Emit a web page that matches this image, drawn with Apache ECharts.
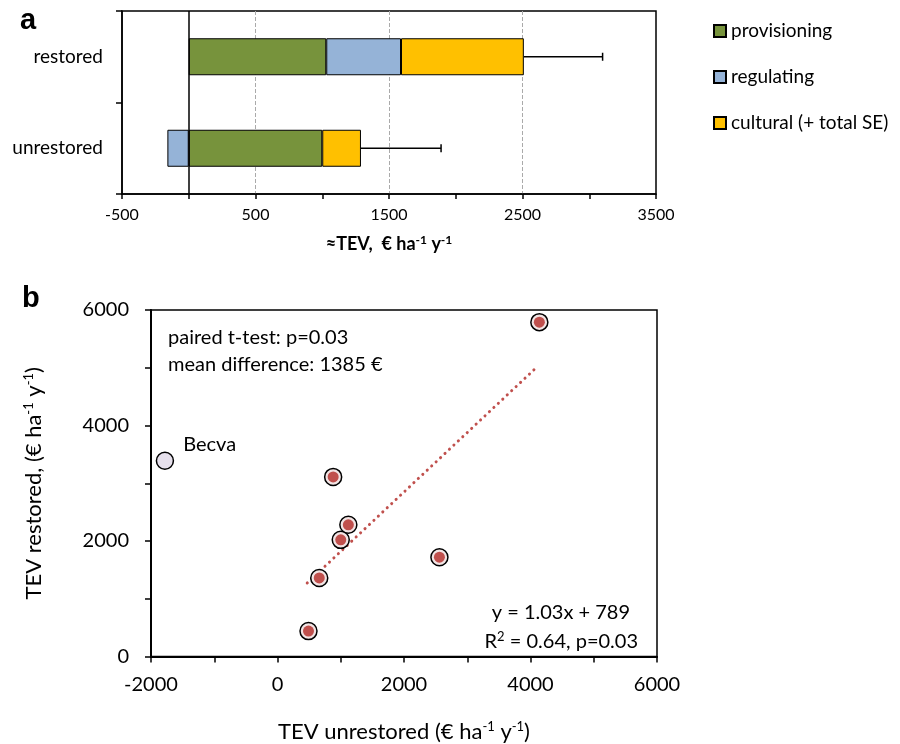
<!DOCTYPE html>
<html lang="en">
<head>
    <meta charset="UTF-8">
    <title>TEV restored vs unrestored</title>
    <script src="https://cdn.jsdelivr.net/npm/echarts@6/dist/echarts.min.js"></script>
    <style>
        html, body { margin: 0; padding: 0; background: #fff; }
    </style>
</head>
<body>
<div id="main" style="width: 900px;height:744px;"></div>
<script type="text/javascript">
    // panel a - stacked bars (bottom category first)
    var categories = ['unrestored', 'restored'];
    var provisioning = [1000, 1030];
    var regulating = [-160, 560];
    var cultural = [290, 920];
    var seLow = [1290, 2510];
    var seHigh = [1890, 3100];

    // panel b - sites
    var siteX = [490, 660, 880, 1000, 1120, 2560, 4140];
    var siteY = [440, 1360, 3110, 2020, 2280, 1720, 5790];
    var becva = [-1780, 3390];
    var trendX = [470, 4080];
    var trendY = [1273, 4991];

    var font = 'Lato, "Open Sans", sans-serif';
    var red = '#c0504d';

    var sites = siteX.map(function (x, i) { return [x, siteY[i]]; });
    var trend = trendX.map(function (x, i) { return [x, trendY[i]]; });
    var errData = categories.map(function (c, i) { return [seLow[i], i, seHigh[i]]; });

    var plain = function (v) { return String(v); };
    var sup = { fontSize: 13, padding: [0, 0, 10, 0], fontFamily: font, color: '#000' };

    var myChart = echarts.init(document.getElementById('main'));
    myChart.setOption({
        animation: false,
        backgroundColor: '#fff',
        textStyle: { fontFamily: font, color: '#000' },
        legend: {
            data: ['provisioning', 'regulating', 'cultural (+ total SE)'],
            orient: 'vertical',
            left: 708,
            top: 15,
            itemWidth: 12,
            itemHeight: 12,
            itemGap: 24,
            icon: 'rect',
            textStyle: { fontSize: 19, fontFamily: font, color: '#000', lineHeight: 22 }
        },
        graphic: [
            { type: 'text', left: 20, top: 6, style: { text: 'a', font: 'bold 29px "Liberation Sans", Arial', fill: '#000' } },
            { type: 'text', left: 22, top: 284, style: { text: 'b', font: 'bold 29px "Liberation Sans", Arial', fill: '#000' } },
            { type: 'text', left: 168, top: 324, style: { text: 'paired t-test: p=0.03\nmean difference: 1385 \u20ac', font: '20px ' + font, fill: '#000', lineHeight: 27 } },
            { type: 'text', right: 270, top: 603, style: { text: 'y = 1.03x + 789', font: '20px ' + font, fill: '#000', align: 'right' } },
            { type: 'text', right: 262, top: 630, style: {
                text: '{n|R}{s|2}{n| = 0.64, p=0.03}',
                rich: { n: { fontSize: 20, fontFamily: font, color: '#000' }, s: sup }
            } }
        ],
        grid: [
            { left: 122, right: 244, top: 11, height: 183, show: true, borderColor: '#000', borderWidth: 1.5 },
            { left: 151, right: 243, top: 310, height: 347, show: true, borderColor: '#000', borderWidth: 1.5 }
        ],
        xAxis: [
            {
                type: 'value', gridIndex: 0, min: -500, max: 3500, interval: 1000,
                axisLine: { show: true, onZero: false, lineStyle: { color: '#000', width: 1.5 } },
                axisTick: { show: true, length: 5, lineStyle: { color: '#000', width: 1.5 } },
                minorTick: { show: true, splitNumber: 2, length: 5, lineStyle: { color: '#000', width: 1.5 } },
                axisLabel: { fontSize: 16, color: '#000', margin: 13, fontFamily: font, formatter: plain },
                splitLine: { show: true, showMinLine: false, showMaxLine: false, lineStyle: { color: '#aaa', type: 'dashed', width: 1 } },
                name: '{b|\u2248TEV,  \u20ac ha}{s|-1}{b| y}{s|-1}',
                nameLocation: 'middle',
                nameGap: 40,
                nameTextStyle: {
                    rich: {
                        b: { fontSize: 18, fontWeight: 'bold', fontFamily: font, color: '#000' },
                        s: { fontSize: 12, fontWeight: 'bold', fontFamily: font, color: '#000', padding: [0, 0, 9, 0] }
                    }
                }
            },
            {
                type: 'value', gridIndex: 1, min: -2000, max: 6000, interval: 2000,
                axisLine: { show: true, onZero: false, lineStyle: { color: '#000', width: 2 } },
                axisTick: { show: true, length: 6, lineStyle: { color: '#000', width: 1.5 } },
                minorTick: { show: true, splitNumber: 2, length: 6, lineStyle: { color: '#000', width: 1.5 } },
                axisLabel: { fontSize: 20, color: '#000', margin: 18, fontFamily: font, formatter: plain },
                splitLine: { show: false },
                name: '{n|TEV unrestored (\u20ac ha}{s|-1}{n| y}{s|-1}{n|)}',
                nameLocation: 'middle',
                nameGap: 64,
                nameTextStyle: {
                    rich: { n: { fontSize: 22, fontFamily: font, color: '#000' }, s: sup }
                }
            }
        ],
        yAxis: [
            {
                type: 'category', gridIndex: 0, data: categories,
                axisLine: { show: true, onZero: false, lineStyle: { color: '#000', width: 1.5 } },
                axisTick: { show: true, length: 6, lineStyle: { color: '#000', width: 1.5 } },
                axisLabel: { fontSize: 19, color: '#000', margin: 19, fontFamily: font }
            },
            {
                type: 'value', gridIndex: 1, min: 0, max: 6000, interval: 2000,
                axisLine: { show: true, onZero: false, lineStyle: { color: '#000', width: 2 } },
                axisTick: { show: true, length: 6, lineStyle: { color: '#000', width: 1.5 } },
                minorTick: { show: true, splitNumber: 2, length: 6, lineStyle: { color: '#000', width: 1.5 } },
                axisLabel: { fontSize: 20, color: '#000', margin: 22, fontFamily: font, formatter: plain },
                splitLine: { show: false },
                name: '{n|TEV restored, (\u20ac ha}{s|-1}{n| y}{s|-1}{n|)}',
                nameLocation: 'middle',
                nameGap: 106,
                nameRotate: 90,
                nameTextStyle: {
                    rich: { n: { fontSize: 22, fontFamily: font, color: '#000' }, s: sup }
                }
            }
        ],
        series: [
            {
                name: 'provisioning', type: 'bar', stack: 'tev', xAxisIndex: 0, yAxisIndex: 0,
                data: provisioning, barWidth: 37,
                itemStyle: { color: '#77933c', borderColor: '#000', borderWidth: 1 },
                markLine: {
                    silent: true, symbol: ['none', 'none'], label: { show: false },
                    lineStyle: { color: '#000', type: 'solid', width: 1.5 },
                    data: [{ xAxis: 0 }]
                }
            },
            {
                name: 'regulating', type: 'bar', stack: 'tev', xAxisIndex: 0, yAxisIndex: 0,
                data: regulating, barWidth: 37,
                itemStyle: { color: '#95b3d7', borderColor: '#000', borderWidth: 1 }
            },
            {
                name: 'cultural (+ total SE)', type: 'bar', stack: 'tev', xAxisIndex: 0, yAxisIndex: 0,
                data: cultural, barWidth: 37,
                itemStyle: { color: '#ffc000', borderColor: '#000', borderWidth: 1 }
            },
            {
                name: 'se', type: 'custom', xAxisIndex: 0, yAxisIndex: 0,
                data: errData,
                encode: { x: [0, 2], y: 1 },
                renderItem: function (params, api) {
                    var c = api.value(1);
                    var a = api.coord([api.value(0), c]);
                    var b = api.coord([api.value(2), c]);
                    var st = { stroke: '#000', lineWidth: 1.5 };
                    return {
                        type: 'group',
                        children: [
                            { type: 'line', shape: { x1: a[0], y1: a[1], x2: b[0], y2: b[1] }, style: st },
                            { type: 'line', shape: { x1: b[0], y1: b[1] - 4, x2: b[0], y2: b[1] + 4 }, style: st }
                        ]
                    };
                }
            },
            {
                name: 'trend', type: 'line', xAxisIndex: 1, yAxisIndex: 1,
                data: trend, symbol: 'none', z: 1,
                lineStyle: { color: red, width: 3, type: [0.1, 6], cap: 'round' }
            },
            {
                name: 'Becva', type: 'scatter', xAxisIndex: 1, yAxisIndex: 1,
                data: [becva], symbolSize: 17,
                itemStyle: { color: '#e6e0ec', borderColor: '#000', borderWidth: 1.5, opacity: 1 },
                label: { show: true, formatter: 'Becva', position: 'right', distance: 9, offset: [0, -16], fontSize: 20, color: '#000', fontFamily: font }
            },
            {
                name: 'sites ring', type: 'scatter', xAxisIndex: 1, yAxisIndex: 1,
                data: sites, symbolSize: 17, z: 3,
                itemStyle: { color: '#f2e4e4', borderColor: '#000', borderWidth: 1.5, opacity: 1 }
            },
            {
                name: 'sites', type: 'scatter', xAxisIndex: 1, yAxisIndex: 1,
                data: sites, symbolSize: 11, z: 4,
                itemStyle: { color: red, opacity: 1 }
            }
        ]
    });
</script>
</body>
</html>
